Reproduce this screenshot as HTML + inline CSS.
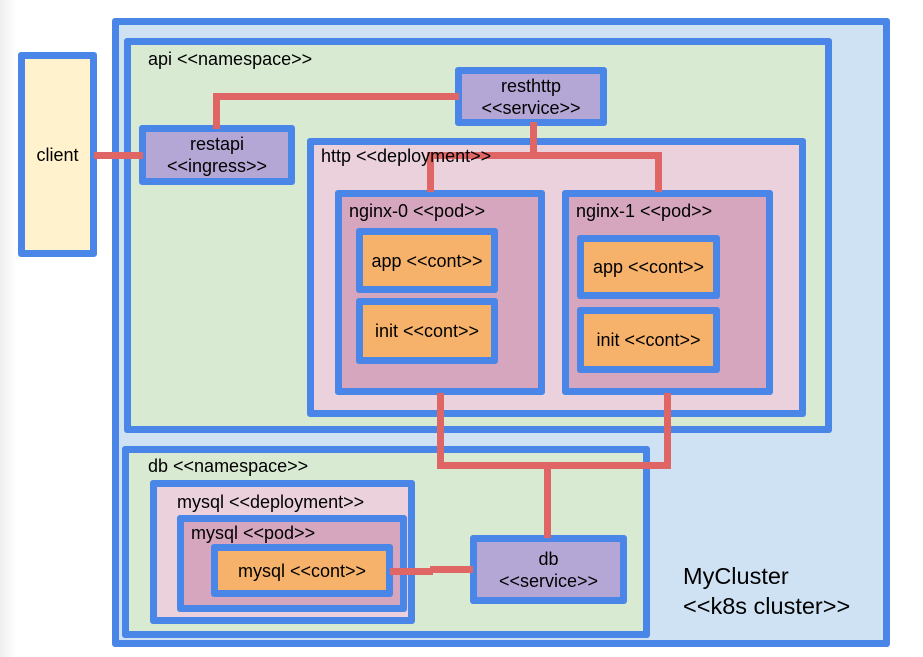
<!DOCTYPE html>
<html><head><style>
body{margin:0;width:923px;height:657px;background:#fff;position:relative;overflow:hidden;font-family:"Liberation Sans",Arial,sans-serif;color:#000}
.b{position:absolute;box-sizing:border-box;border:7px solid #4a86e8;border-radius:3px}
.l{position:absolute;font-size:18px;white-space:nowrap;z-index:5}
.c{display:flex;align-items:center;justify-content:center;text-align:center;font-size:18px;line-height:22px}
.r{position:absolute;background:#e06666}
</style></head><body>
<div style="position:absolute;left:0;top:0;width:16px;height:657px;background:linear-gradient(90deg,#eee,#fff)"></div>
<div class="b" style="left:112px;top:18px;width:778px;height:629px;background:#cfe2f3"></div>
<div class="b c" style="left:18px;top:52px;width:79px;height:205px;background:#fff2cc">client</div>
<div class="b" style="left:124px;top:38px;width:708px;height:395px;background:#d9ead3"><span class="l" style="left:17px;top:4px">api &lt;&lt;namespace&gt;&gt;</span></div>
<div class="b c" style="left:139px;top:125px;width:156px;height:60px;background:#b4a7d6">restapi<br>&lt;&lt;ingress&gt;&gt;</div>
<div class="b c" style="left:455px;top:67px;width:152px;height:59px;background:#b4a7d6">resthttp<br>&lt;&lt;service&gt;&gt;</div>
<div class="b" style="left:307px;top:138px;width:499px;height:279px;background:#ead1dc"></div>
<span class="l" style="left:321px;top:146px">http &lt;&lt;deployment&gt;&gt;</span>
<div class="b" style="left:335px;top:190px;width:210px;height:205px;background:#d5a6bd"><span class="l" style="left:7px;top:4px">nginx-0 &lt;&lt;pod&gt;&gt;</span></div>
<div class="b c" style="left:356px;top:228px;width:142px;height:65px;background:#f6b26b">app &lt;&lt;cont&gt;&gt;</div>
<div class="b c" style="left:356px;top:298px;width:142px;height:66px;background:#f6b26b">init &lt;&lt;cont&gt;&gt;</div>
<div class="b" style="left:562px;top:190px;width:211px;height:205px;background:#d5a6bd"><span class="l" style="left:7px;top:4px">nginx-1 &lt;&lt;pod&gt;&gt;</span></div>
<div class="b c" style="left:577px;top:235px;width:143px;height:64px;background:#f6b26b">app &lt;&lt;cont&gt;&gt;</div>
<div class="b c" style="left:577px;top:307px;width:143px;height:66px;background:#f6b26b">init &lt;&lt;cont&gt;&gt;</div>
<div class="b" style="left:122px;top:446px;width:528px;height:192px;background:#d9ead3"><span class="l" style="left:19px;top:3px">db &lt;&lt;namespace&gt;&gt;</span></div>
<div class="b" style="left:150px;top:480px;width:265px;height:144px;background:#ead1dc"><span class="l" style="left:20px;top:5px">mysql &lt;&lt;deployment&gt;&gt;</span></div>
<div class="b" style="left:177px;top:515px;width:230px;height:97px;background:#d5a6bd"><span class="l" style="left:7px;top:1px">mysql &lt;&lt;pod&gt;&gt;</span></div>
<div class="b c" style="left:211px;top:544px;width:182px;height:53px;background:#f6b26b">mysql &lt;&lt;cont&gt;&gt;</div>
<div class="b c" style="left:470px;top:535px;width:157px;height:69px;background:#b4a7d6">db<br>&lt;&lt;service&gt;&gt;</div>
<div class="l" style="left:683px;top:561px;font-size:23.5px;line-height:30px">MyCluster<br>&lt;&lt;k8s cluster&gt;&gt;</div>
<div class="r" style="left:94px;top:152px;width:49px;height:7px"></div>
<div class="r" style="left:213px;top:93px;width:7px;height:36px"></div>
<div class="r" style="left:213px;top:93px;width:246px;height:7px"></div>
<div class="r" style="left:530px;top:122px;width:7px;height:36px"></div>
<div class="r" style="left:427px;top:152px;width:235px;height:7px"></div>
<div class="r" style="left:427px;top:152px;width:7px;height:40px"></div>
<div class="r" style="left:655px;top:152px;width:7px;height:40px"></div>
<div class="r" style="left:437px;top:393px;width:7px;height:75px"></div>
<div class="r" style="left:664px;top:393px;width:7px;height:75px"></div>
<div class="r" style="left:437px;top:462px;width:234px;height:7px"></div>
<div class="r" style="left:544px;top:462px;width:7px;height:76px"></div>
<div class="r" style="left:390px;top:568px;width:43px;height:7px"></div>
<div class="r" style="left:430px;top:566px;width:43px;height:7px"></div>
</body></html>
